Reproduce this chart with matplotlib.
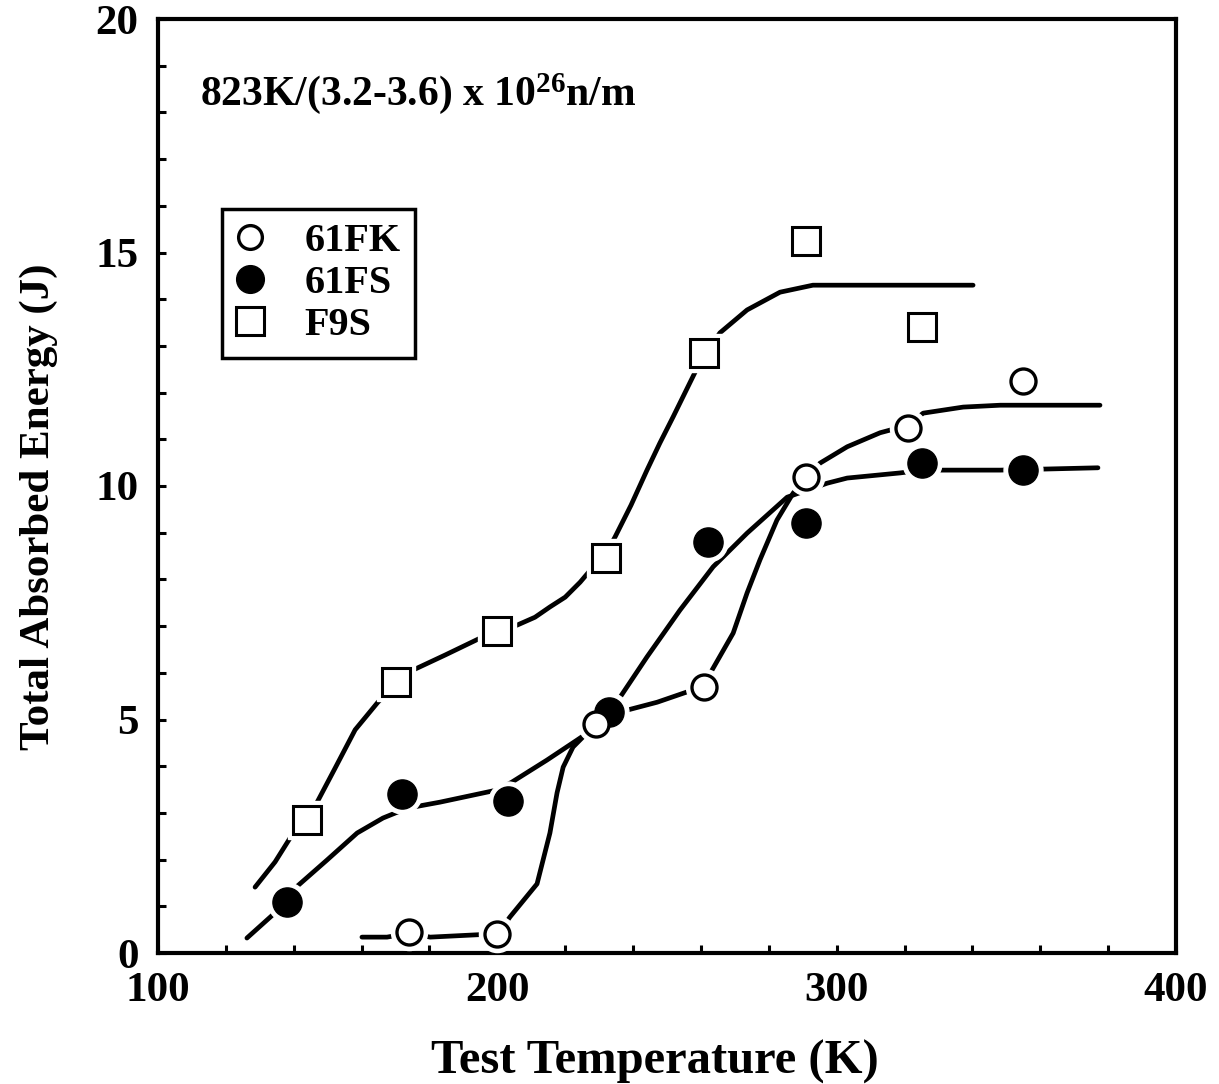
import matplotlib
matplotlib.use("Agg")
import matplotlib.pyplot as plt
from matplotlib.ticker import MultipleLocator

plt.rcParams['font.family'] = 'Liberation Serif'
plt.rcParams['font.weight'] = 'bold'
plt.rcParams['mathtext.fontset'] = 'custom'
plt.rcParams['mathtext.rm'] = 'Liberation Serif:bold'
plt.rcParams['mathtext.default'] = 'rm'

# measured points
t_61fk = [174, 200, 229, 261, 291, 321, 355]
e_61fk = [0.45, 0.4, 4.9, 5.7, 10.2, 11.25, 12.25]
t_61fs = [138, 172, 203, 233, 262, 291, 325, 355]
e_61fs = [1.1, 3.4, 3.25, 5.15, 8.8, 9.2, 10.5, 10.35]
t_f9s = [144, 170, 200, 232, 261, 291, 325]
e_f9s = [2.85, 5.8, 6.9, 8.45, 12.85, 15.25, 13.4]

# hand drawn trend curves
ct_61fk = [160.1, 167.5, 174.3, 180.2, 194.0, 200.2, 203.7, 211.7, 215.5, 217.6,
           219.4, 222.3, 226.4, 228.8, 232.6, 238.2, 247.1, 255.9, 260.6, 263.6,
           269.5, 273.6, 277.4, 282.4, 287.2, 291.3, 295.1, 303.1, 312.8, 321.0,
           325.5, 337.3, 348.2, 377.6]
ce_61fk = [0.34, 0.34, 0.43, 0.34, 0.39, 0.41, 0.77, 1.48, 2.57, 3.43,
           3.98, 4.41, 4.71, 4.90, 5.07, 5.20, 5.37, 5.59, 5.72, 6.10,
           6.85, 7.71, 8.42, 9.27, 9.85, 10.19, 10.49, 10.84, 11.14, 11.30,
           11.56, 11.69, 11.73, 11.73]
ct_61fs = [126.2, 138.0, 140.4, 149.8, 158.7, 166.3, 173.4, 183.1, 192.8, 199.9,
           204.3, 214.6, 223.5, 228.8, 232.6, 236.2, 244.1, 253.8, 263.6, 273.6,
           285.4, 297.2, 303.1, 318.7, 325.2, 331.4, 348.2, 377.0]
ce_61fs = [0.32, 1.09, 1.39, 1.99, 2.57, 2.89, 3.10, 3.23, 3.38, 3.49,
           3.66, 4.13, 4.56, 4.82, 5.14, 5.48, 6.34, 7.34, 8.27, 8.99,
           9.76, 10.06, 10.17, 10.28, 10.34, 10.34, 10.34, 10.39]
ct_f9s = [128.6, 134.5, 138.9, 143.6, 146.9, 152.2, 158.1, 164.8, 169.8, 175.2,
          184.6, 194.3, 199.9, 205.8, 211.1, 215.5, 220.0, 224.4, 227.9, 232.3,
          234.7, 239.4, 244.1, 247.9, 251.8, 258.3, 261.2, 265.6, 273.6, 283.3,
          293.0, 312.8, 340.2]
ce_f9s = [1.41, 1.95, 2.46, 2.85, 3.23, 3.96, 4.78, 5.37, 5.74, 6.06,
          6.38, 6.72, 6.90, 7.02, 7.19, 7.41, 7.62, 7.94, 8.24, 8.59,
          8.91, 9.59, 10.34, 10.92, 11.48, 12.44, 12.81, 13.28, 13.77, 14.15,
          14.30, 14.30, 14.30]

fig = plt.figure(figsize=(12.19, 10.84), dpi=100)
ax = fig.add_axes([158 / 1219, 131 / 1084, 1018 / 1219, 934 / 1084])

for ct, ce in [(ct_61fk, ce_61fk), (ct_61fs, ce_61fs), (ct_f9s, ce_f9s)]:
    ax.plot(ct, ce, color='black', lw=3.4, solid_capstyle='round', zorder=2)

# white halos so the curves stop short of the symbols
ax.plot(t_61fk, e_61fk, 'o', ms=26, color='white', zorder=3)
ax.plot(t_61fs, e_61fs, 'o', ms=28, color='white', zorder=3)
ax.plot(t_f9s, e_f9s, 's', ms=28, color='white', zorder=3)

h1, = ax.plot(t_61fk, e_61fk, 'o', ms=18, mfc='white', mec='black', mew=2.4,
              ls='none', zorder=5)
h2, = ax.plot(t_61fs, e_61fs, 'o', ms=21, mfc='black', mec='black',
              ls='none', zorder=4)
h3, = ax.plot(t_f9s, e_f9s, 's', ms=20.5, mfc='white', mec='black', mew=2.2,
              ls='none', zorder=4)

ax.set_xlim(100, 400)
ax.set_ylim(0, 20)
ax.xaxis.set_major_locator(MultipleLocator(100))
ax.xaxis.set_minor_locator(MultipleLocator(20))
ax.yaxis.set_major_locator(MultipleLocator(5))
ax.yaxis.set_minor_locator(MultipleLocator(1))
ax.tick_params(which='both', direction='in', length=6, width=2.2,
               top=False, right=False, labelsize=31)
ax.tick_params(axis='x', pad=14)
ax.tick_params(axis='y', pad=14)
for s in ax.spines.values():
    s.set_linewidth(3)

ax.set_xlabel('Test Temperature (K)', fontsize=35, fontweight='bold', va='top')
ax.xaxis.set_label_coords(0.488, -0.093)
ax.set_ylabel('Total Absorbed Energy (J)', fontsize=31, fontweight='bold')
ax.yaxis.set_label_coords(-0.098, 0.478)

ax.text(0.041, 0.92, r'823K/(3.2-3.6) x 10$^{26}$n/m', transform=ax.transAxes,
        fontsize=30, fontweight='bold', va='center', ha='left')

leg = ax.legend([h1, h2, h3], ['61FK', '61FS', 'F9S'], loc='upper left',
                bbox_to_anchor=(0.063, 0.797), borderaxespad=0, fontsize=29,
                frameon=True, fancybox=False, edgecolor='black', framealpha=1,
                handlelength=0.7, handletextpad=1.0, borderpad=0.35,
                labelspacing=0.12, markerscale=0.95)
leg.get_frame().set_linewidth(2.5)

fig.savefig('out.png', dpi=100)
